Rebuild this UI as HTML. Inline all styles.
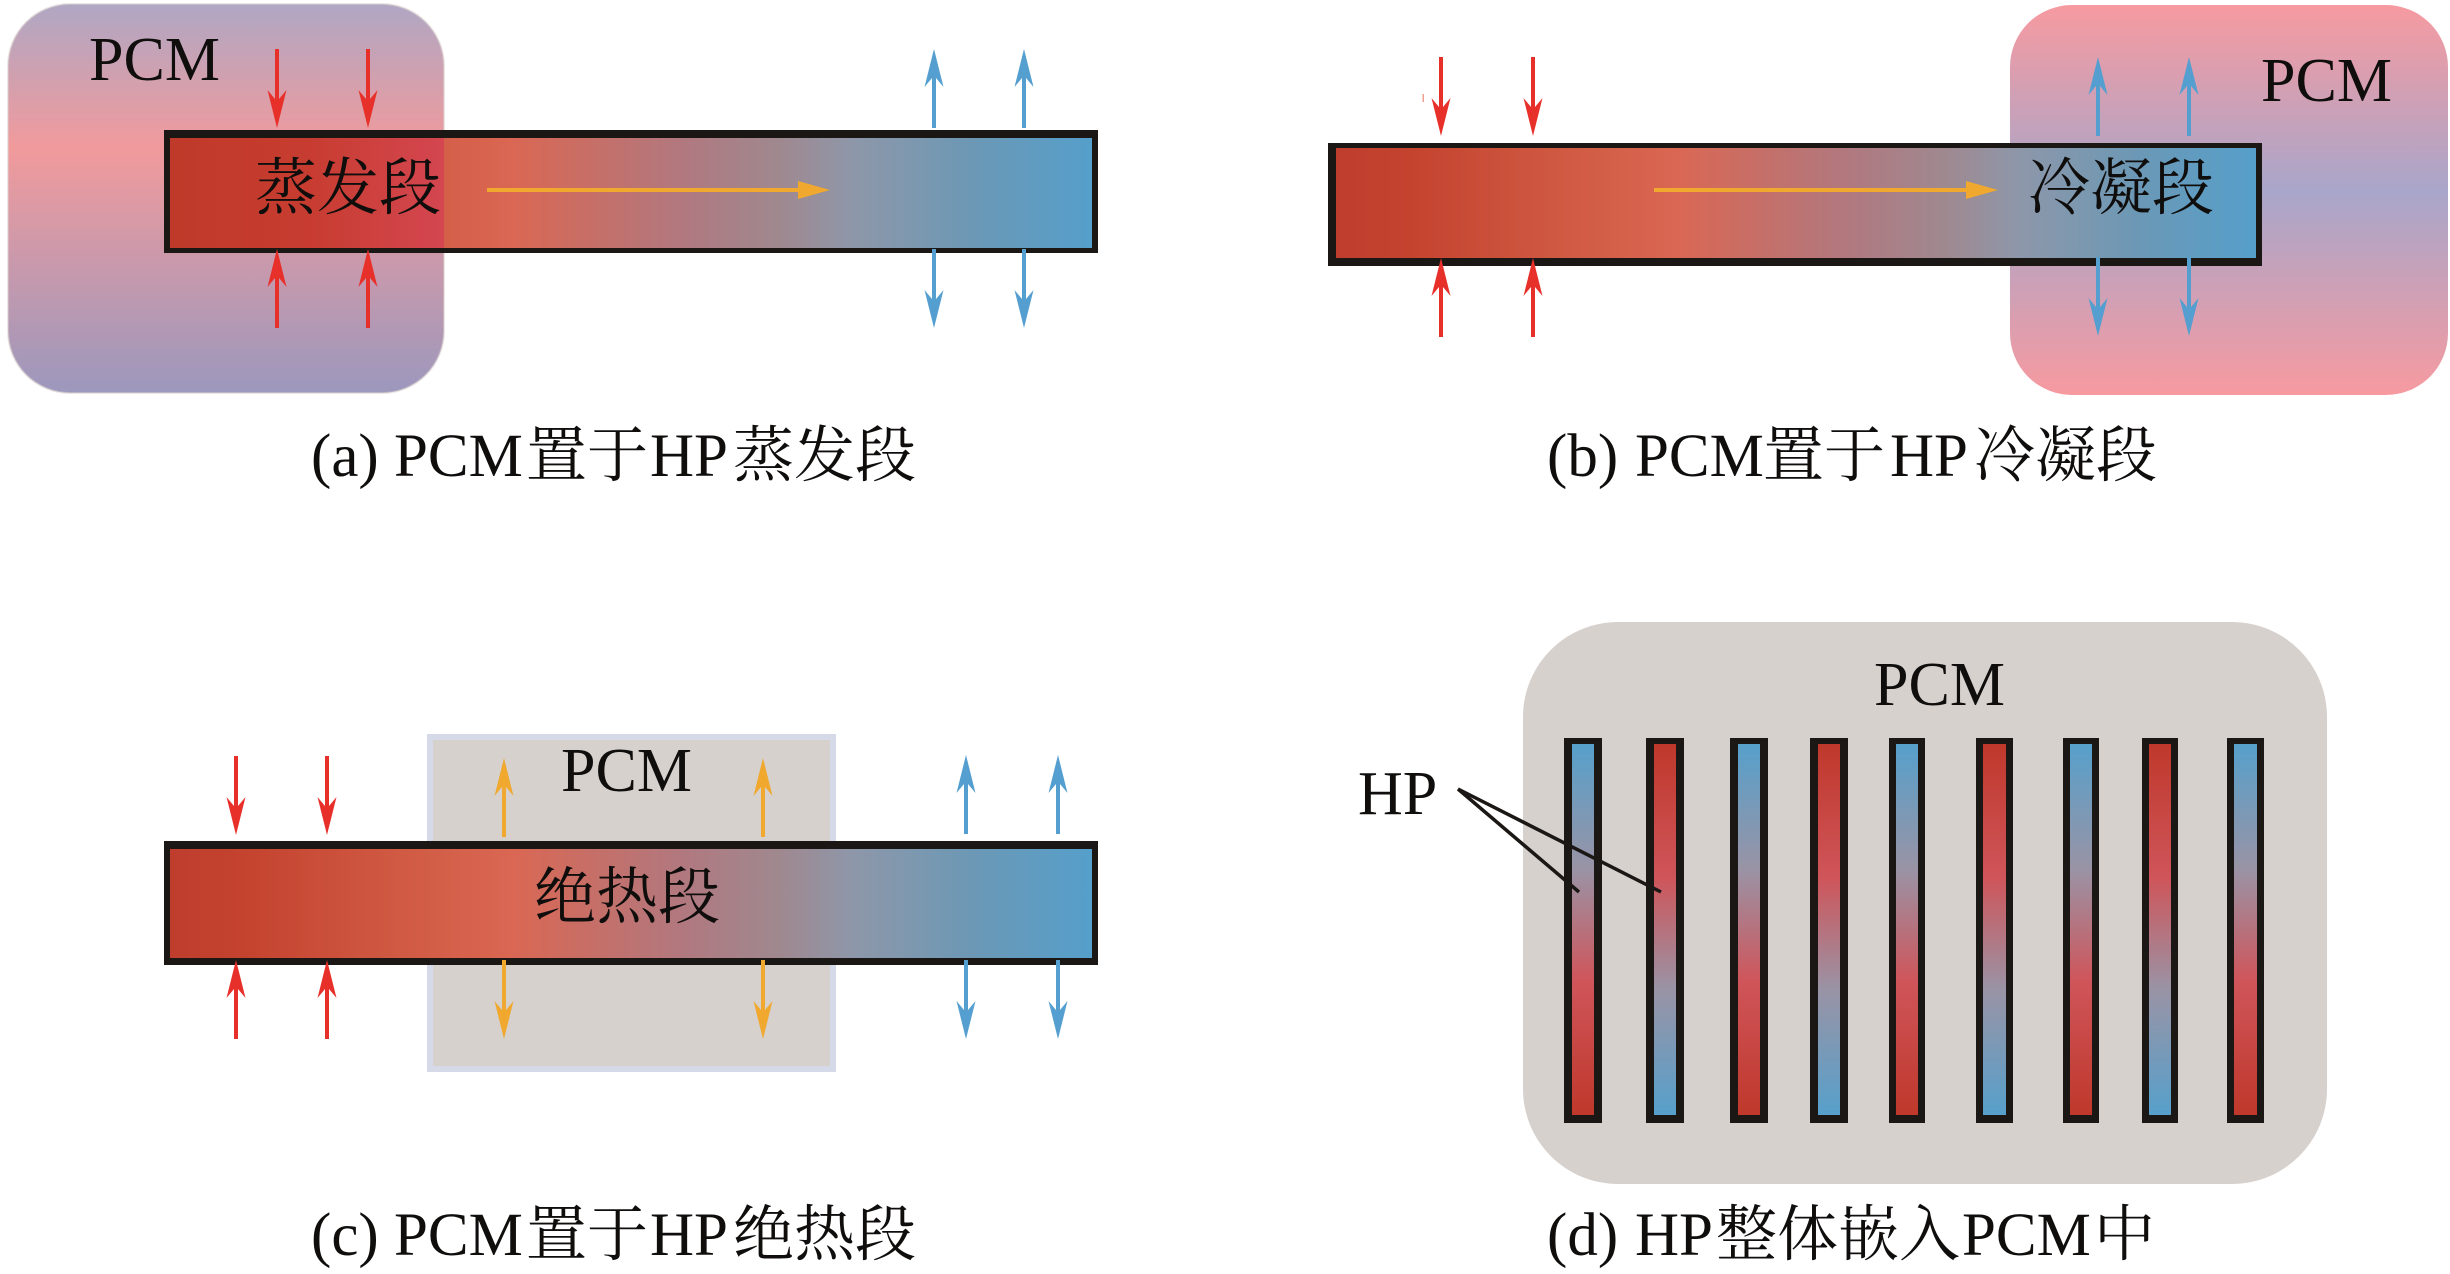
<!DOCTYPE html>
<html>
<head>
<meta charset="utf-8">
<style>
html,body{margin:0;padding:0;background:#fff;width:2450px;height:1274px;overflow:hidden}
svg{display:block}
text{font-family:"Liberation Serif","Noto Serif CJK SC",serif;font-size:62px;fill:#100e0d}
.c{font-size:61px}
</style>
</head>
<body>
<svg width="2450" height="1274" viewBox="0 0 2450 1274" xmlns="http://www.w3.org/2000/svg">
<defs>
<linearGradient id="h" x1="0" x2="1" y1="0" y2="0">
<stop offset="0" stop-color="#bf3d2d"/><stop offset=".08" stop-color="#c4432f"/><stop offset=".25" stop-color="#d05a43"/><stop offset=".37" stop-color="#da6753"/><stop offset=".46" stop-color="#c66f68"/><stop offset=".56" stop-color="#b07980"/><stop offset=".66" stop-color="#a0888f"/><stop offset=".74" stop-color="#8e97a9"/><stop offset=".87" stop-color="#6c98b5"/><stop offset="1" stop-color="#559fcb"/>
</linearGradient>
<linearGradient id="ov" x1="0" x2="1" y1="0" y2="0">
<stop offset="0" stop-color="#bf3a2a"/><stop offset=".5" stop-color="#c73c30"/><stop offset="1" stop-color="#d44650"/>
</linearGradient>
<linearGradient id="pa" x1="0" x2="0" y1="0" y2="1">
<stop offset="0" stop-color="#afa7c4"/><stop offset=".37" stop-color="#f19a9c"/><stop offset="1" stop-color="#9c98bd"/>
</linearGradient>
<linearGradient id="pb" x1="0" x2="0" y1="0" y2="1">
<stop offset="0" stop-color="#f79aa0"/><stop offset=".48" stop-color="#a8a6ca"/><stop offset="1" stop-color="#f79aa0"/>
</linearGradient>
<linearGradient id="b2r" x1="0" x2="0" y1="0" y2="1">
<stop offset="0" stop-color="#56a0cb"/><stop offset=".34" stop-color="#9a93a5"/><stop offset=".64" stop-color="#cf555a"/><stop offset="1" stop-color="#bf382b"/>
</linearGradient>
<linearGradient id="r2b" x1="0" x2="0" y1="0" y2="1">
<stop offset="0" stop-color="#bf382b"/><stop offset=".36" stop-color="#cf555a"/><stop offset=".66" stop-color="#9a93a5"/><stop offset="1" stop-color="#56a0cb"/>
</linearGradient>
<path id="d" d="M-2,-79H2V-29L9.500,-38L0,0L-9.500,-38L-2,-29Z"/>
<path id="u" d="M-2,79H2V29L9.500,38L0,0L-9.500,38L-2,29Z"/>
</defs>

<!-- (a) -->
<rect x="8" y="4" width="436" height="389" rx="62" ry="62" fill="url(#pa)" stroke="#d9d0cc" stroke-opacity=".5" stroke-width="2"/>
<rect x="164" y="130" width="934" height="123" fill="#1a1714"/>
<rect x="170" y="138" width="922" height="110" fill="url(#h)"/>
<rect x="170" y="138" width="274" height="110" fill="url(#ov)"/>
<path d="M487,188H798V181L830,190L798,199V192H487Z" fill="#f0a82f"/>
<g fill="#e8302a">
<use href="#d" x="277" y="128"/><use href="#d" x="368" y="128"/>
<use href="#u" x="277" y="249"/><use href="#u" x="368" y="249"/>
</g>
<g fill="#549fd0">
<use href="#u" x="934" y="49"/><use href="#u" x="1024" y="49"/>
<use href="#d" x="934" y="328"/><use href="#d" x="1024" y="328"/>
</g>
<text x="89" y="80">PCM</text>
<text x="255" y="209">蒸发段</text>
<text class="c" y="476"><tspan x="311">(a)</tspan><tspan x="394">PCM</tspan><tspan x="526">置于</tspan><tspan x="650">HP</tspan><tspan x="733">蒸发段</tspan></text>

<!-- (b) -->
<rect x="2010" y="5" width="438" height="390" rx="62" ry="62" fill="url(#pb)"/>
<rect x="1328" y="143" width="934" height="123" fill="#1a1714"/>
<rect x="1336" y="148" width="920" height="110" fill="url(#h)"/>
<path d="M1654,188H1966V181L1998,190L1966,199V192H1654Z" fill="#f0a82f"/>
<g fill="#e8302a">
<use href="#d" x="1441" y="136"/><use href="#d" x="1533" y="136"/>
<use href="#u" x="1441" y="258"/><use href="#u" x="1533" y="258"/>
</g>
<rect x="1422.500" y="94" width="1.500" height="8" fill="#f0a090"/>
<g fill="#549fd0">
<use href="#u" x="2098" y="57"/><use href="#u" x="2189" y="57"/>
<use href="#d" x="2098" y="336"/><use href="#d" x="2189" y="336"/>
</g>
<text x="2261" y="101">PCM</text>
<text x="2028" y="209">冷凝段</text>
<text class="c" y="476"><tspan x="1547">(b)</tspan><tspan x="1635">PCM</tspan><tspan x="1763">置于</tspan><tspan x="1890">HP</tspan><tspan x="1974">冷凝段</tspan></text>

<!-- (c) -->
<rect x="430" y="737" width="403" height="332" fill="#d7d1ce" stroke="#d5d9e8" stroke-width="6"/>
<rect x="164" y="841" width="934" height="124" fill="#1a1714"/>
<rect x="170" y="849" width="922" height="109" fill="url(#h)"/>
<g fill="#e8302a">
<use href="#d" x="236" y="835"/><use href="#d" x="327" y="835"/>
<use href="#u" x="236" y="960"/><use href="#u" x="327" y="960"/>
</g>
<g fill="#f0a82f">
<use href="#u" x="504" y="758"/><use href="#u" x="763" y="758"/>
<use href="#d" x="504" y="1039"/><use href="#d" x="763" y="1039"/>
</g>
<g fill="#549fd0">
<use href="#u" x="966" y="755"/><use href="#u" x="1058" y="755"/>
<use href="#d" x="966" y="1039"/><use href="#d" x="1058" y="1039"/>
</g>
<text x="561" y="791">PCM</text>
<text x="534" y="918">绝热段</text>
<text class="c" y="1255"><tspan x="311">(c)</tspan><tspan x="394">PCM</tspan><tspan x="526">置于</tspan><tspan x="650">HP</tspan><tspan x="733">绝热段</tspan></text>

<!-- (d) -->
<rect x="1523" y="622" width="804" height="562" rx="95" ry="95" fill="#d7d1ce"/>
<g fill="#1a1714">
<rect x="1564" y="738" width="38" height="385"/><rect x="1646" y="738" width="38" height="385"/><rect x="1730" y="738" width="38" height="385"/><rect x="1810" y="738" width="38" height="385"/><rect x="1889" y="738" width="36" height="385"/><rect x="1976" y="738" width="37" height="385"/><rect x="2063" y="738" width="36" height="385"/><rect x="2142" y="738" width="36" height="385"/><rect x="2227" y="738" width="37" height="385"/>
</g>
<rect x="1572" y="744" width="22" height="371" fill="url(#b2r)"/>
<rect x="1654" y="744" width="22" height="371" fill="url(#r2b)"/>
<rect x="1738" y="744" width="22" height="371" fill="url(#b2r)"/>
<rect x="1818" y="744" width="22" height="371" fill="url(#r2b)"/>
<rect x="1896" y="744" width="22" height="371" fill="url(#b2r)"/>
<rect x="1983" y="744" width="23" height="371" fill="url(#r2b)"/>
<rect x="2070" y="744" width="22" height="371" fill="url(#b2r)"/>
<rect x="2149" y="744" width="22" height="371" fill="url(#r2b)"/>
<rect x="2234" y="744" width="23" height="371" fill="url(#b2r)"/>
<path d="M1579,892L1458,789" stroke="#1a1714" stroke-width="3.500" fill="none"/>
<path d="M1458,789L1661,892" stroke="#1a1714" stroke-width="3.500" fill="none"/>
<text x="1358" y="814">HP</text>
<text x="1874" y="705">PCM</text>
<text class="c" y="1255"><tspan x="1547">(d)</tspan><tspan x="1635">HP</tspan><tspan x="1716">整体嵌入</tspan><tspan x="1962">PCM</tspan><tspan x="2094">中</tspan></text>
</svg>
</body>
</html>
